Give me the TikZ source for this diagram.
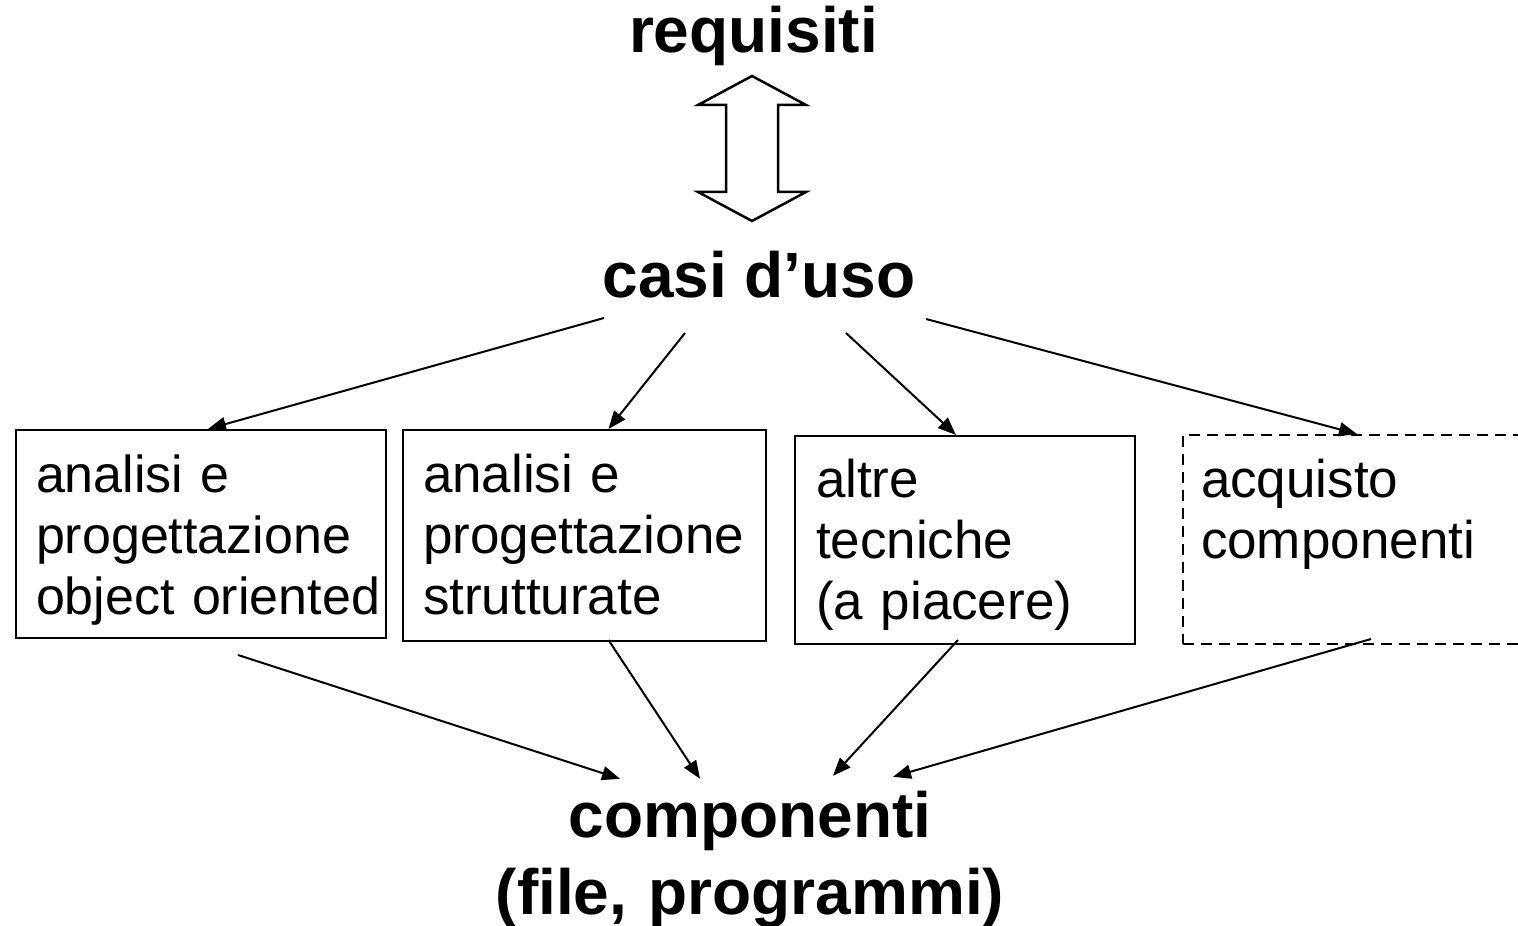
\documentclass[tikz,border=0pt]{standalone}
\usepackage{fontspec}
\setmainfont{Liberation Sans}
\usetikzlibrary{arrows.meta}

\tikzset{
  stage/.style={draw, line width=2pt, anchor=north west, align=left, inner ysep=0pt,
    font=\fontsize{53}{61}\selectfont},
  title/.style={inner sep=0pt, font=\fontsize{64}{77}\selectfont\bfseries},
  flow/.style={line width=2pt, -{Triangle[length=18pt,width=14pt]}},
}

\begin{document}
\begin{tikzpicture}[x=1pt,y=1pt]
\useasboundingbox (0,0) rectangle (1518,926);
\clip (0,0) rectangle (1518,926);

% levels
\node[title, anchor=base] (req) at (753.5,873) {requisiti};
\node[title, anchor=base] (casi) at (759,628) {casi d’uso};
\node[title, anchor=base, align=center, text width=700pt, text height=59pt] (comp) at (750,88)
  {componenti\\(file, programmi)};

% ways to get from use cases to components
\node[stage, font=\fontsize{52}{61}\selectfont, text width=330pt, inner xsep=20pt, text height=63pt, text depth=145pt] (oo) at (15,497)
  {analisi e\\progettazione\\\mbox{object oriented}};
\node[stage, text width=323pt, inner xsep=20pt, text height=63pt, text depth=148pt] (st) at (402,497)
  {analisi e\\progettazione\\strutturate};
\node[stage, text width=298pt, inner xsep=21pt, text height=62pt, text depth=146pt] (alt) at (794,491)
  {altre\\tecniche\\(a piacere)};
\node[stage, dash pattern=on 11pt off 7pt, text width=309pt, inner xsep=18pt, text height=63pt, text depth=146pt] (acq) at (1182,492)
  {acquisto\\componenti};

% requisiti <-> casi d'uso (hollow block arrow)
\draw[line width=2.5pt, shift={(752,777.5)}]
  (0,72.5) -- (54,43.5) -- (26,43.5) -- (26,-43.5) -- (54,-43.5) -- (0,-72.5)
  -- (-54,-43.5) -- (-26,-43.5) -- (-26,43.5) -- (-54,43.5) -- cycle;

\draw[flow] ([shift={(-155,-20)}]casi.base) -- ([xshift=7]oo.north);
\draw[flow] ([shift={(-74,-35)}]casi.base) -- ([xshift=24]st.north);
\draw[flow] ([shift={(87,-35)}]casi.base) -- ([xshift=-9]alt.north);
\draw[flow] ([shift={(167,-21)}]casi.base) -- ([xshift=175]acq.north west);

\draw[flow] ([shift={(37,-16)}]oo.south) -- ([xshift=-130]comp.north);
\draw[flow] ([shift={(24,2)}]st.south) -- ([xshift=-50]comp.north);
\draw[flow] ([shift={(-7,5)}]alt.south) -- ([shift={(83,3)}]comp.north);
\draw[flow] ([shift={(189,6)}]acq.south west) -- ([shift={(143,2)}]comp.north);
\end{tikzpicture}
\end{document}
